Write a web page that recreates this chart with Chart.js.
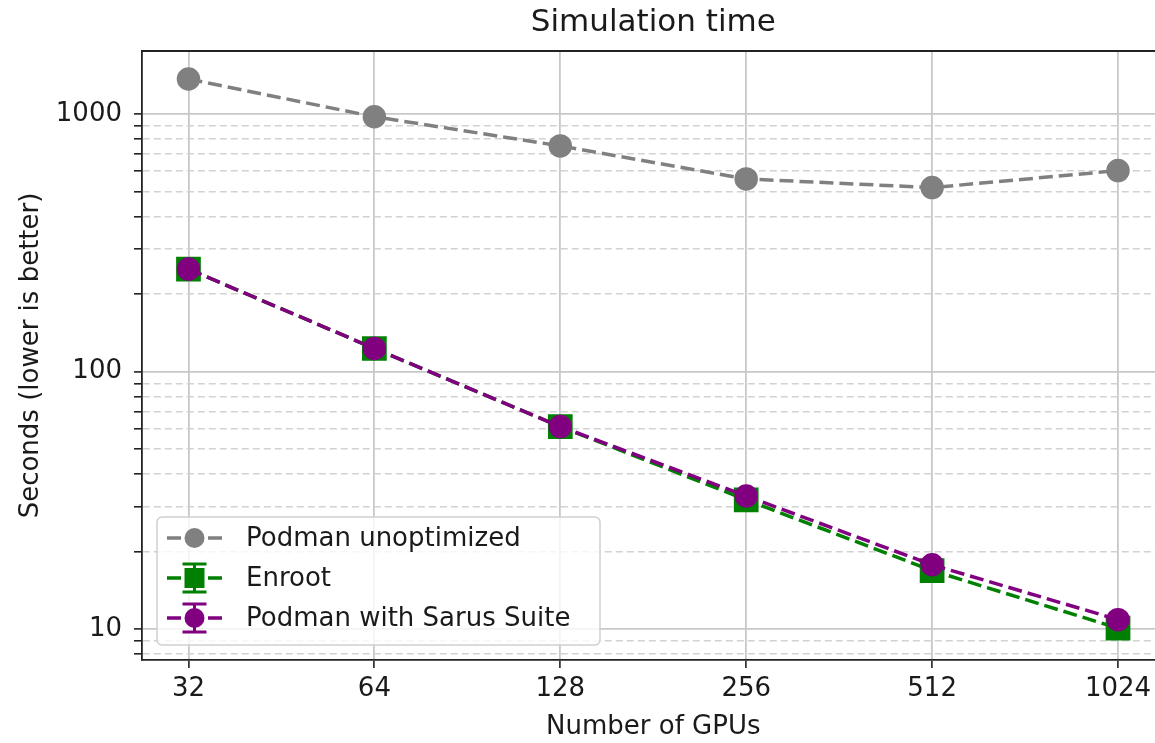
<!DOCTYPE html>
<html>
<head>
<meta charset="utf-8">
<script src="https://cdn.jsdelivr.net/npm/chart.js@4.4.1/dist/chart.umd.min.js"></script>
<style>
  html, body { margin: 0; padding: 0; background: #fff; overflow: hidden; }
  #wrap { width: 1183px; height: 743px; }
</style>
</head>
<body>
<div id="wrap"><canvas id="myChart"></canvas></div>
<script>
const gpus = [32, 64, 128, 256, 512, 1024];
const podmanUnoptimized = [1367, 976, 752, 560, 518, 603];
const enroot = [250, 123, 61.2, 31.8, 16.9, 10.1];
const podmanSarus = [250, 123, 61.2, 32.9, 17.8, 10.9];
const yMajorTicks = [10, 100, 1000];
const yMinorTicks = [8, 9, 20, 30, 40, 50, 60, 70, 80, 90, 200, 300, 400, 500, 600, 700, 800, 900];
const chartTitle = "Simulation time";

Chart.defaults.font.family = "'DejaVu Sans', sans-serif";
Chart.defaults.color = "#1a1a1a";

const toPoints = (vals) => vals.map((v, i) => ({ x: gpus[i], y: v }));
const isMajor = (v) => yMajorTicks.includes(v);

// draws a marker for the legend handles
function drawMarker(ctx, style, x, y, r, color) {
    ctx.fillStyle = color;
    ctx.beginPath();
    if (style === "rect") {
        ctx.rect(x - r, y - r, 2 * r, 2 * r);
    } else {
        ctx.arc(x, y, r, 0, Math.PI * 2);
    }
    ctx.fill();
}

const frameAndLegend = {
    id: "frameAndLegend",
    afterDatasetsDraw(chart) {
        const { ctx, chartArea } = chart;
        ctx.save();
        // top spine
        ctx.strokeStyle = "#222";
        ctx.lineWidth = 1.8;
        ctx.beginPath();
        ctx.moveTo(chartArea.left, chartArea.top);
        ctx.lineTo(chartArea.right, chartArea.top);
        ctx.stroke();

        // title centred over the axes, like matplotlib
        ctx.fillStyle = "#1a1a1a";
        ctx.font = "31px 'DejaVu Sans', sans-serif";
        ctx.textAlign = "center";
        ctx.textBaseline = "middle";
        ctx.fillText(chartTitle, (chartArea.left + chartArea.right) / 2, 23);

        // legend box
        const bx = 157, by = 517, bw = 443, bh = 128, rad = 5;
        ctx.fillStyle = "rgba(255,255,255,0.8)";
        ctx.strokeStyle = "#d0d0d0";
        ctx.lineWidth = 1.5;
        ctx.beginPath();
        ctx.roundRect(bx, by, bw, bh, rad);
        ctx.fill();
        ctx.stroke();

        const rows = [538, 578, 618];
        chart.data.datasets.forEach((ds, k) => {
            const y = rows[k];
            const x0 = 167, x1 = 222, xm = 194.5;
            ctx.strokeStyle = ds.borderColor;
            ctx.lineWidth = 3.5;
            ctx.setLineDash([]);
            ctx.beginPath();
            ctx.moveTo(x0, y); ctx.lineTo(x0 + 14, y);
            ctx.moveTo(x1 - 14, y); ctx.lineTo(x1, y);
            ctx.stroke();
            if (ds.hasErrorBars) {
                ctx.lineWidth = 3;
                ctx.beginPath();
                ctx.moveTo(xm, y - 14); ctx.lineTo(xm, y + 14);
                ctx.moveTo(xm - 12, y - 14); ctx.lineTo(xm + 12, y - 14);
                ctx.moveTo(xm - 12, y + 14); ctx.lineTo(xm + 12, y + 14);
                ctx.stroke();
            }
            drawMarker(ctx, ds.pointStyle, xm, y, 10, ds.borderColor);
            ctx.fillStyle = "#1a1a1a";
            ctx.font = "26px 'DejaVu Sans', sans-serif";
            ctx.textAlign = "left";
            ctx.textBaseline = "middle";
            ctx.fillText(ds.label, 246, y + 1);
        });
        ctx.restore();
    },
};

const ctx = document.getElementById("myChart");

new Chart(ctx, {
    type: "line",
    data: {
        datasets: [
            {
                label: "Podman unoptimized",
                data: toPoints(podmanUnoptimized),
                borderColor: "#808080",
                backgroundColor: "#808080",
                pointBackgroundColor: "#808080",
                pointBorderColor: "#808080",
                pointStyle: "circle",
                pointRadius: 10,
                borderWidth: 3.5,
                borderDash: [14, 6],
                hasErrorBars: false,
                order: 3,
            },
            {
                label: "Enroot",
                data: toPoints(enroot),
                borderColor: "#008000",
                backgroundColor: "#008000",
                pointBackgroundColor: "#008000",
                pointBorderColor: "#008000",
                pointStyle: "rect",
                pointRadius: 15,
                borderWidth: 3.5,
                borderDash: [14, 6],
                hasErrorBars: true,
                order: 2,
            },
            {
                label: "Podman with Sarus Suite",
                data: toPoints(podmanSarus),
                borderColor: "#800080",
                backgroundColor: "#800080",
                pointBackgroundColor: "#800080",
                pointBorderColor: "#800080",
                pointStyle: "circle",
                pointRadius: 10,
                borderWidth: 3.5,
                borderDash: [14, 6],
                hasErrorBars: true,
                order: 1,
            },
        ],
    },
    options: {
        responsive: true,
        maintainAspectRatio: false,
        animation: false,
        layout: { padding: { right: 6, left: 0, top: 51, bottom: 0 } },
        plugins: {
            legend: { display: false },
            tooltip: { enabled: false },
            title: { display: false },
        },
        scales: {
            x: {
                type: "logarithmic",
                min: 32 / Math.pow(2, 0.25),
                max: 1024 * Math.pow(2, 0.25),
                afterBuildTicks: (scale) => {
                    scale.ticks = gpus.map((v) => ({ value: v }));
                },
                afterFit: (scale) => {
                    scale.height = 83;
                },
                ticks: {
                    autoSkip: false,
                    maxRotation: 0,
                    padding: 6,
                    font: { size: 26 },
                    color: "#1a1a1a",
                    callback: (v) => String(v),
                },
                grid: {
                    color: "#c8c8c8",
                    lineWidth: 1.8,
                    tickLength: 8,
                    tickColor: "#222",
                    tickWidth: 1.6,
                },
                border: { color: "#222", width: 1.8 },
                title: {
                    display: true,
                    text: "Number of GPUs",
                    font: { size: 26, lineHeight: 1.2 },
                    padding: { top: 0, bottom: 0 },
                    color: "#1a1a1a",
                },
            },
            y: {
                type: "logarithmic",
                min: 7.6,
                max: 1756,
                afterBuildTicks: (scale) => {
                    scale.ticks = yMinorTicks
                        .concat(yMajorTicks)
                        .sort((a, b) => a - b)
                        .map((v) => ({ value: v }));
                },
                afterFit: (scale) => {
                    scale.width = 142;
                },
                ticks: {
                    autoSkip: false,
                    padding: 12,
                    font: { size: 26 },
                    color: "#1a1a1a",
                    callback: (v) => (isMajor(v) ? String(v) : ""),
                },
                grid: {
                    color: (c) => (c.tick && isMajor(c.tick.value) ? "#c8c8c8" : "#d2d2d2"),
                    lineWidth: (c) => (c.tick && isMajor(c.tick.value) ? 1.8 : 1.6),
                    tickLength: 8,
                    tickColor: "#222",
                    tickWidth: 1.6,
                },
                border: {
                    color: "#222",
                    width: 1.8,
                    dash: (c) => (c.tick && !isMajor(c.tick.value) ? [7, 4] : []),
                },
                title: {
                    display: true,
                    text: "Seconds (lower is better)",
                    font: { size: 26, lineHeight: 1.2 },
                    padding: { top: 16, bottom: 0 },
                    color: "#1a1a1a",
                },
            },
        },
    },
    plugins: [frameAndLegend],
});
</script>
</body>
</html>
